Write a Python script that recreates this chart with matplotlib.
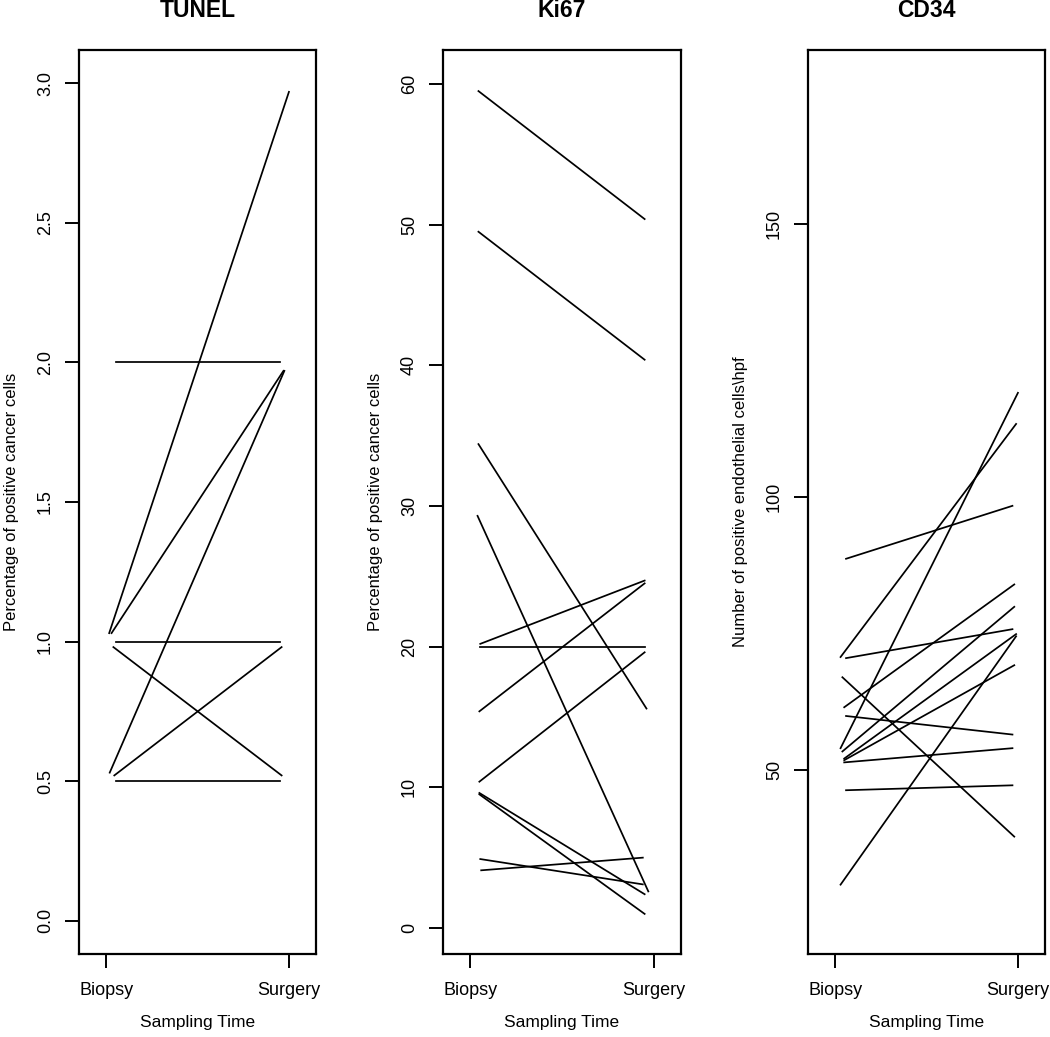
import matplotlib
matplotlib.use("Agg")
import matplotlib.pyplot as plt

plt.rcParams['font.family'] = ['Liberation Sans', 'DejaVu Sans']

# sampling times
time_labels = ["Biopsy", "Surgery"]

# TUNEL (% positive cancer cells) biopsy -> surgery, x with jitter
tunel_biopsy = [2.00, 1.03, 1.03, 0.53, 1.00, 0.98, 0.52, 0.50]
tunel_surgery = [2.00, 2.97, 1.97, 1.97, 1.00, 0.52, 0.98, 0.50]
tunel_xb = [1.055, 1.017, 1.030, 1.020, 1.055, 1.040, 1.045, 1.055]
tunel_xs = [1.950, 2.000, 1.970, 1.975, 1.950, 1.960, 1.960, 1.950]

# Ki67 (% positive cancer cells)
ki67_biopsy = [59.5, 49.5, 34.4, 29.3, 20.2, 20.0, 15.4, 10.4, 9.6, 9.5, 4.9, 4.1]
ki67_surgery = [50.4, 40.4, 15.6, 2.6, 24.7, 20.0, 24.5, 19.6, 2.4, 1.0, 3.1, 5.0]
ki67_xb = [1.045, 1.045, 1.045, 1.040, 1.055, 1.055, 1.050, 1.050, 1.050, 1.050, 1.055, 1.060]
ki67_xs = [1.950, 1.950, 1.960, 1.970, 1.950, 1.950, 1.950, 1.950, 1.950, 1.950, 1.940, 1.940]

# CD34 (positive endothelial cells per hpf)
cd34_biopsy = [88.7, 70.7, 70.5, 67.0, 61.5, 59.9, 54.0, 53.4, 52.1, 51.8, 51.4, 46.3, 29.0]
cd34_surgery = [98.4, 113.4, 75.8, 37.8, 84.0, 56.5, 119.1, 79.9, 74.9, 69.2, 54.0, 47.2, 74.5]
cd34_xb = [1.06, 1.03, 1.06, 1.04, 1.05, 1.06, 1.03, 1.04, 1.05, 1.05, 1.05, 1.06, 1.03]
cd34_xs = [1.97, 1.99, 1.97, 1.98, 1.98, 1.97, 2.00, 1.98, 1.99, 1.98, 1.97, 1.97, 1.99]

panels = [
    ("TUNEL", tunel_xb, tunel_xs, tunel_biopsy, tunel_surgery,
     [0, 0.5, 1.0, 1.5, 2.0, 2.5, 3.0], ["0.0", "0.5", "1.0", "1.5", "2.0", "2.5", "3.0"],
     (-0.12, 3.12), "Percentage of positive cancer cells"),
    ("Ki67", ki67_xb, ki67_xs, ki67_biopsy, ki67_surgery,
     [0, 10, 20, 30, 40, 50, 60], ["0", "10", "20", "30", "40", "50", "60"],
     (-1.85, 62.42), "Percentage of positive cancer cells"),
    ("CD34", cd34_xb, cd34_xs, cd34_biopsy, cd34_surgery,
     [50, 100, 150], ["50", "100", "150"],
     (16.3, 181.9), "Number of positive endothelial cells\\hpf"),
]

W, H = 1050, 1037
fig = plt.figure(figsize=(W / 100, H / 100), dpi=100)
lefts = [79, 443, 808]
widths = [237, 238, 237]
top_px, bottom_px = 50, 954

for (title, xb, xs, yb, ys, ticks, ticklabels, ylim, ylabel), l, w in zip(panels, lefts, widths):
    ax = fig.add_axes([l / W, 1 - bottom_px / H, w / W, (bottom_px - top_px) / H])
    for x0, x1, y0, y1 in zip(xb, xs, yb, ys):
        ax.plot([x0, x1], [y0, y1], color="black", lw=1.25)
    ax.set_xlim(0.852, 2.148)
    ax.set_ylim(*ylim)
    ax.set_xticks([1, 2])
    ax.set_xticklabels(time_labels, fontsize=13)
    ax.set_yticks(ticks)
    ax.set_yticklabels(ticklabels, fontsize=13, rotation=90, va="center")
    ax.tick_params(axis="both", direction="out", length=10, width=1.4, pad=8)
    ax.tick_params(axis="x", pad=10)
    for s in ax.spines.values():
        s.set_linewidth(1.6)
    ax.set_xlabel("Sampling Time", fontsize=12.5, labelpad=12)
    ax.set_ylabel(ylabel, fontsize=12, labelpad=13)
    fig.text((l + w / 2) / W, 1 - 17 / H, title, ha="center", va="baseline",
             fontsize=16.5, fontweight="bold")

fig.savefig("out.png", dpi=100)
